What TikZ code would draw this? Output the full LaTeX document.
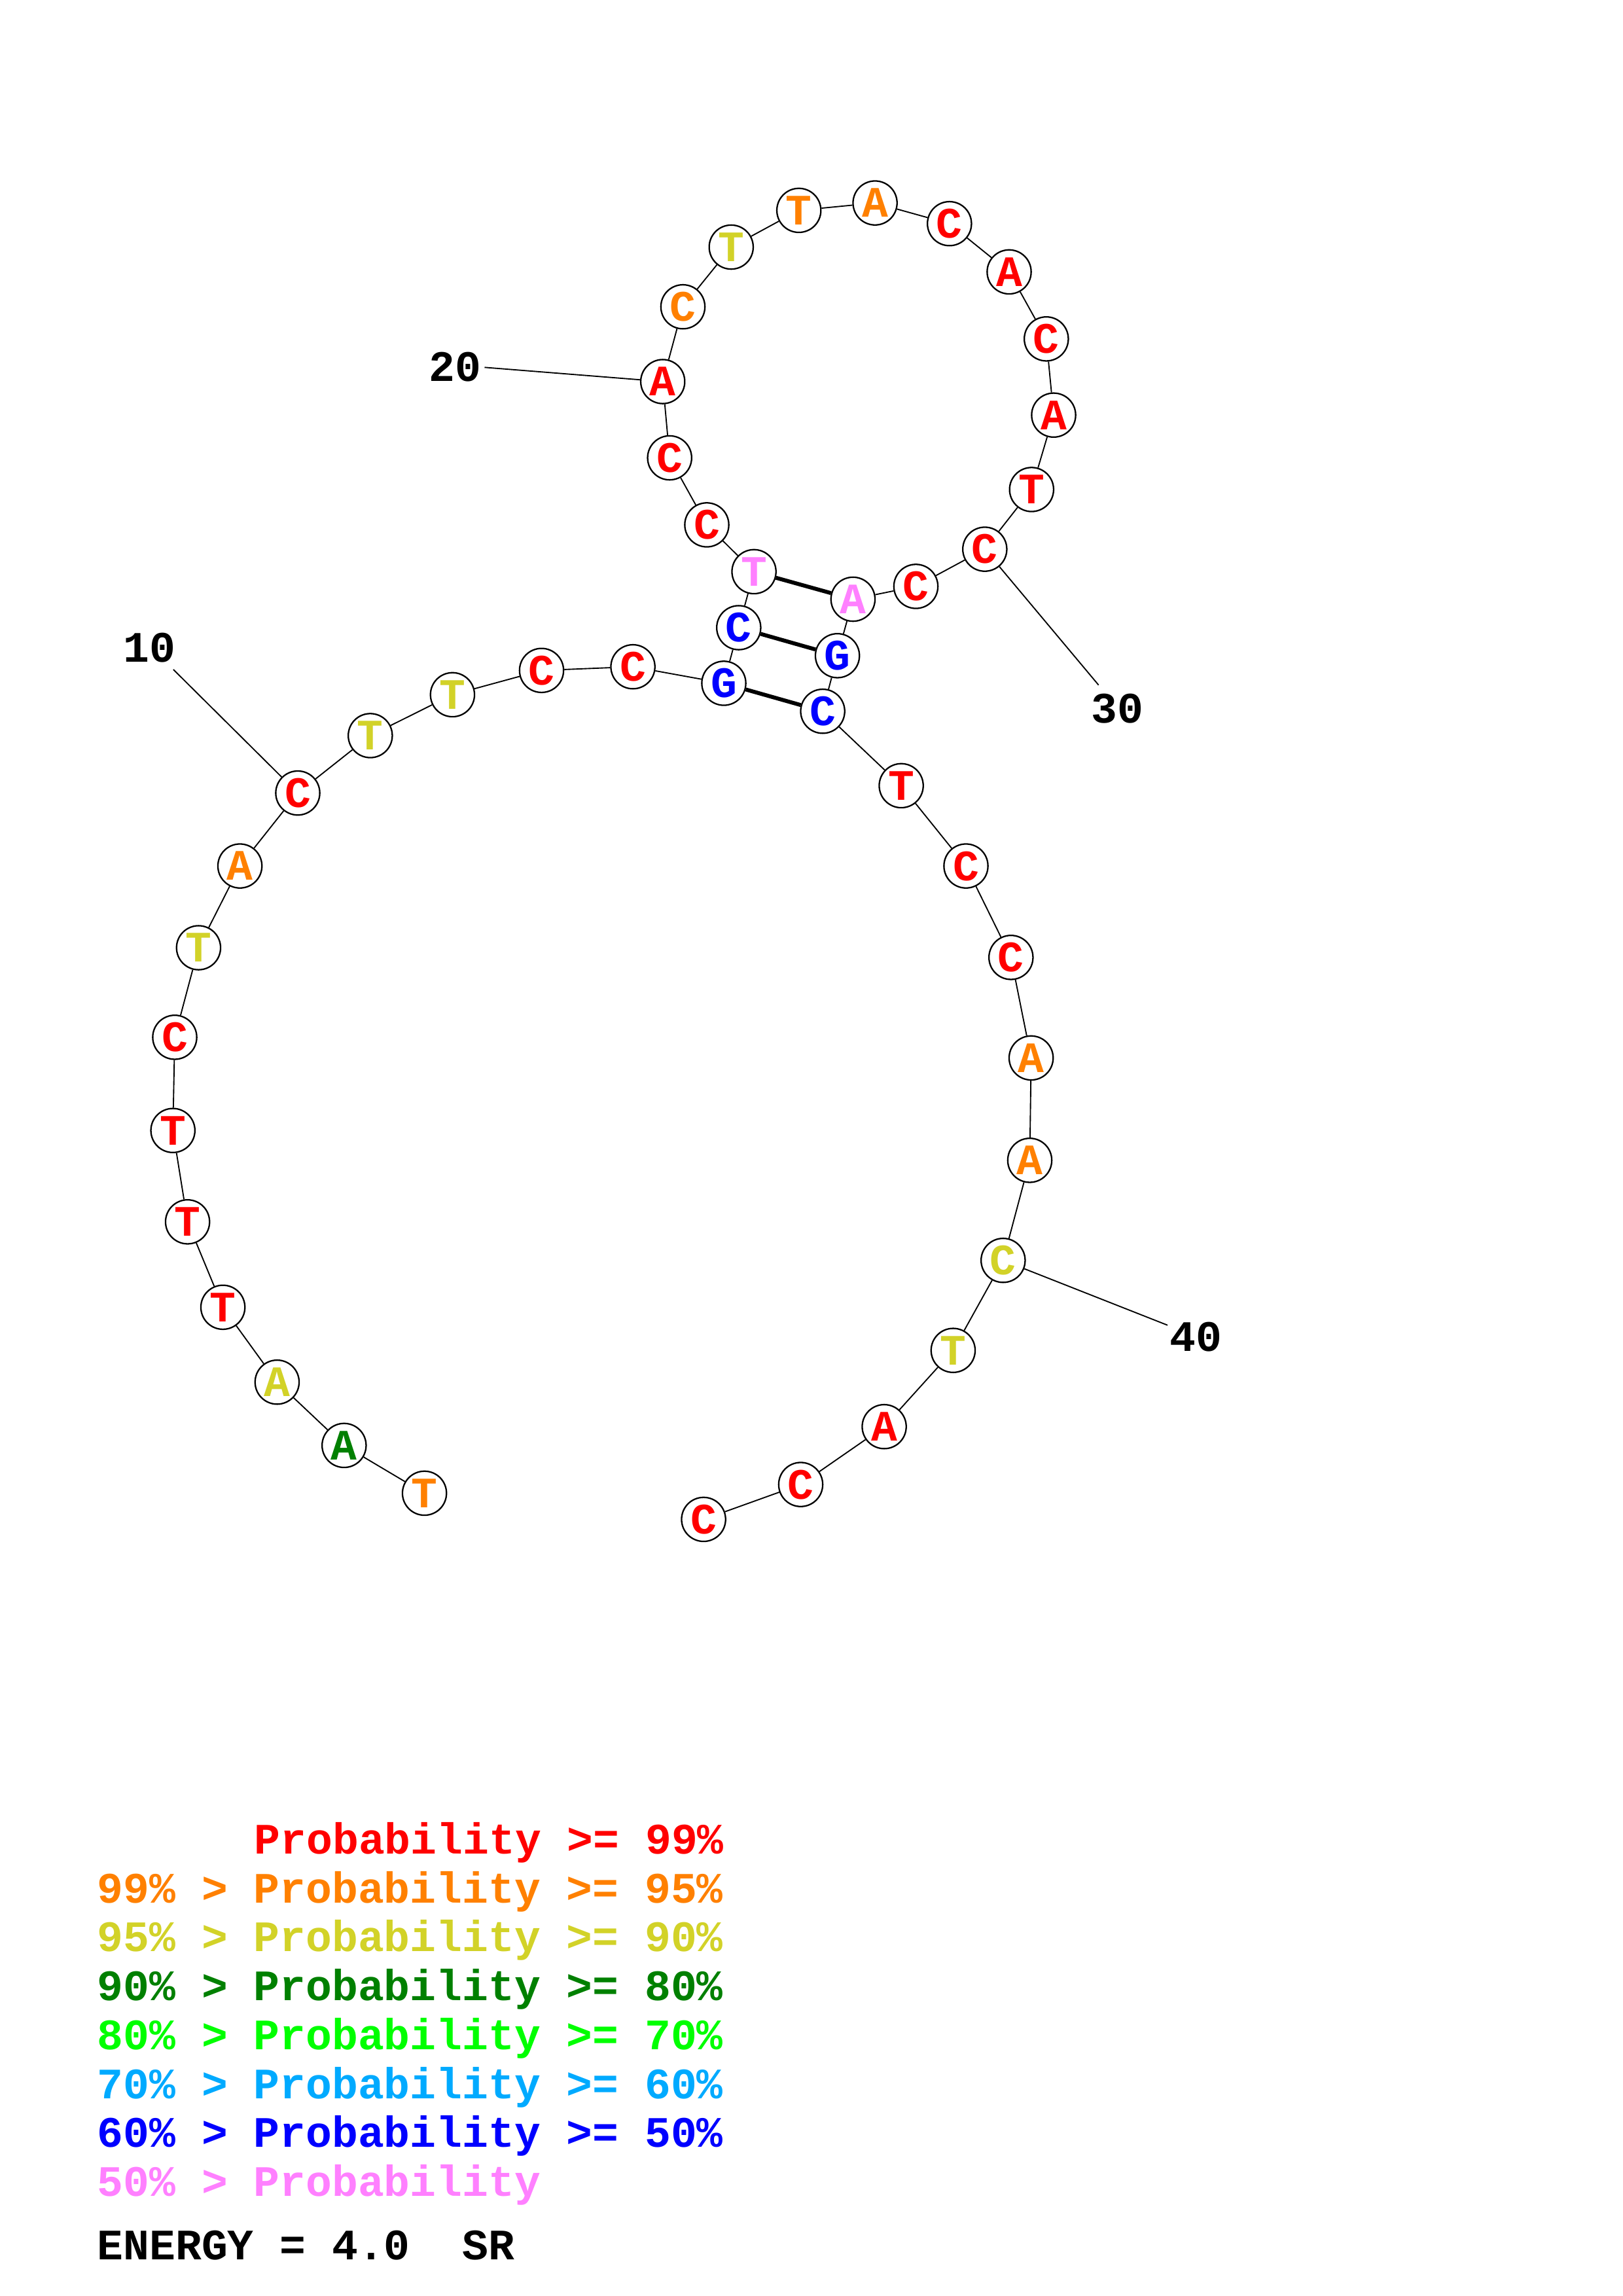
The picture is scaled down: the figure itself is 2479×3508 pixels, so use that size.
\documentclass[tikz,border=0pt]{standalone}
\usepackage{fontspec}
\setmonofont{Liberation Mono}
\definecolor{p99}{RGB}{255,0,0}
\definecolor{p95}{RGB}{255,128,0}
\definecolor{p90}{RGB}{210,210,40}
\definecolor{p80}{RGB}{0,128,0}
\definecolor{p70}{RGB}{0,255,0}
\definecolor{p60}{RGB}{0,170,255}
\definecolor{p50}{RGB}{0,0,255}
\definecolor{p00}{RGB}{255,128,255}
\begin{document}
\begin{tikzpicture}[x=0.08471mm, y=-0.08471mm,
    txt/.style={font=\ttfamily\bfseries\fontsize{16}{19}\selectfont, inner sep=0pt},
    nt/.style={txt, circle, draw, line width=0.55pt, fill=white, minimum size=5.7mm},
    lbl/.style={txt, anchor=base west},
    bb/.style={line width=0.45pt},
    bp/.style={line width=1.45pt}]
    \useasboundingbox (0,0) rectangle (2479,3508);
    % nucleotides
    \node[nt, text=p95] (n1)  at (648.6,2281.4) {T};
    \node[nt, text=p80] (n2)  at (525.8,2208.4) {A};
    \node[nt, text=p90] (n3)  at (423.4,2111.7) {A};
    \node[nt, text=p99] (n4)  at (340.6,1997.3) {T};
    \node[nt, text=p99] (n5)  at (286.6,1866.8) {T};
    \node[nt, text=p99] (n6)  at (264.2,1727.2) {T};
    \node[nt, text=p99] (n7)  at (267.0,1584.8) {C};
    \node[nt, text=p90] (n8)  at (303.4,1448.0) {T};
    \node[nt, text=p95] (n9)  at (366.6,1323.1) {A};
    \node[nt, text=p99] (n10) at (455.0,1211.6) {C};
    \node[nt, text=p90] (n11) at (565.8,1123.9) {T};
    \node[nt, text=p90] (n12) at (691.4,1061.4) {T};
    \node[nt, text=p99] (n13) at (827.5,1024.3) {C};
    \node[nt, text=p99] (n14) at (967.1,1018.7) {C};
    \node[nt, text=p50] (n15) at (1106.0,1043.9) {G};
    \node[nt, text=p50] (n16) at (1128.8,959.0) {C};
    \node[nt, text=p00] (n17) at (1152.1,873.4) {T};
    \node[nt, text=p99] (n18) at (1080.0,801.9) {C};
    \node[nt, text=p99] (n19) at (1023.2,699.5) {C};
    \node[nt, text=p99] (n20) at (1012.7,583.0) {A};
    \node[nt, text=p95] (n21) at (1043.5,468.7) {C};
    \node[nt, text=p90] (n22) at (1117.3,377.5) {T};
    \node[nt, text=p95] (n23) at (1220.7,321.4) {T};
    \node[nt, text=p95] (n24) at (1337.1,310.1) {A};
    \node[nt, text=p99] (n25) at (1450.8,341.7) {C};
    \node[nt, text=p99] (n26) at (1542.0,415.4) {A};
    \node[nt, text=p99] (n27) at (1598.8,517.8) {C};
    \node[nt, text=p99] (n28) at (1610.0,634.2) {A};
    \node[nt, text=p99] (n29) at (1576.3,747.9) {T};
    \node[nt, text=p99] (n30) at (1504.8,839.1) {C};
    \node[nt, text=p99] (n31) at (1399.5,895.9) {C};
    \node[nt, text=p00] (n32) at (1303.4,915.5) {A};
    \node[nt, text=p50] (n33) at (1279.6,1001.8) {G};
    \node[nt, text=p50] (n34) at (1257.1,1086.7) {C};
    \node[nt, text=p99] (n35) at (1377.1,1200.4) {T};
    \node[nt, text=p99] (n36) at (1476.0,1323.1) {C};
    \node[nt, text=p99] (n37) at (1544.8,1462.8) {C};
    \node[nt, text=p95] (n38) at (1575.6,1616.4) {A};
    \node[nt, text=p95] (n39) at (1573.5,1772.8) {A};
    \node[nt, text=p90] (n40) at (1532.8,1925.7) {C};
    \node[nt, text=p90] (n41) at (1456.4,2063.2) {T};
    \node[nt, text=p99] (n42) at (1351.1,2179.7) {A};
    \node[nt, text=p99] (n43) at (1223.5,2268.1) {C};
    \node[nt, text=p99] (n44) at (1075.1,2321.4) {C};
    % backbone
    \draw[bb] (n1) -- (n2) -- (n3) -- (n4) -- (n5) -- (n6) -- (n7) -- (n8) -- (n9) -- (n10)
        -- (n11) -- (n12) -- (n13) -- (n14) -- (n15) -- (n16) -- (n17) -- (n18) -- (n19) -- (n20)
        -- (n21) -- (n22) -- (n23) -- (n24) -- (n25) -- (n26) -- (n27) -- (n28) -- (n29) -- (n30)
        -- (n31) -- (n32) -- (n33) -- (n34) -- (n35) -- (n36) -- (n37) -- (n38) -- (n39) -- (n40)
        -- (n41) -- (n42) -- (n43) -- (n44);
    \draw[bp] (n15) -- (n34);% Draw pairs
    \draw[bp] (n16) -- (n33);
    \draw[bp] (n17) -- (n32);
    % numbering
    \coordinate (e10) at (264.9,1022.9);
    \coordinate (e20) at (740.5,561.3);
    \coordinate (e30) at (1678.7,1046.7);
    \coordinate (e40) at (1784.0,2024.7);
    \node[lbl] (l10) at (188,1011.6) {10};
    \node[lbl] (l20) at (655,582.3) {20};
    \node[lbl] (l30) at (1667,1104.9) {30};
    \node[lbl] (l40) at (1787,2064.6) {40};
    \draw[bb] (e10) -- (n10);
    \draw[bb] (e20) -- (n20);
    \draw[bb] (e30) -- (n30);
    \draw[bb] (e40) -- (n40);
    % legend
    \node[lbl, text=p99] (leg1) at (388,2832.7) {Probability >= 99\%};
    \node[lbl, text=p95] (leg2) at (148,2907.2) {99\% > Probability >= 95\%};
    \node[lbl, text=p90] (leg3) at (148,2981.9) {95\% > Probability >= 90\%};
    \node[lbl, text=p80] (leg4) at (148,3056.6) {90\% > Probability >= 80\%};
    \node[lbl, text=p70] (leg5) at (148,3131.3) {80\% > Probability >= 70\%};
    \node[lbl, text=p60] (leg6) at (148,3206.0) {70\% > Probability >= 60\%};
    \node[lbl, text=p50] (leg7) at (148,3280.7) {60\% > Probability >= 50\%};
    \node[lbl, text=p00] (leg8) at (148,3355.4) {50\% > Probability};
    \node[lbl] (energy) at (148,3452.6) {ENERGY = 4.0~~SR};
\end{tikzpicture}
\end{document}
